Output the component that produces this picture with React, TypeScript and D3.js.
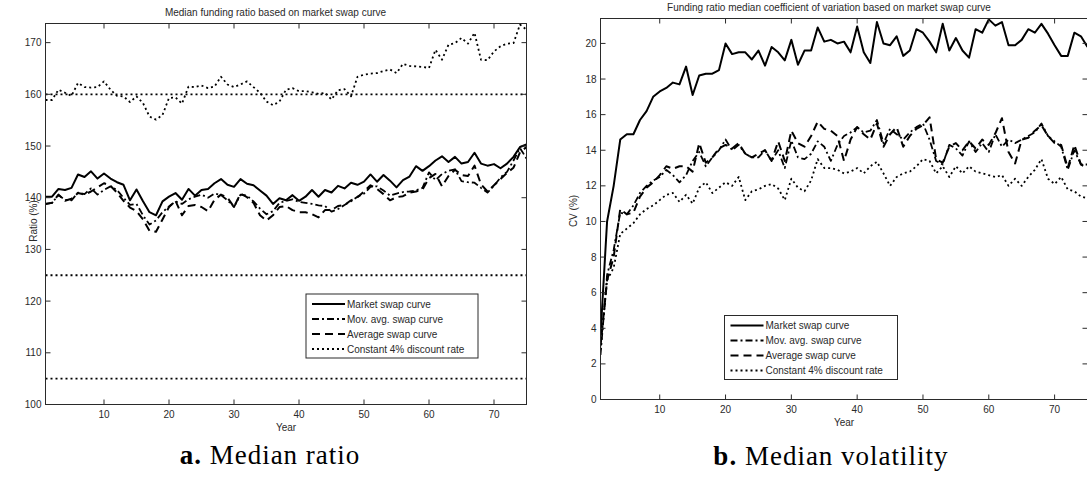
import React, { useEffect } from 'react';
import * as d3 from 'd3';

// years 1..75 on both panels
const years = d3.range(1, 76);
const xTickValues = [10, 20, 30, 40, 50, 60, 70];

// panel a: median funding ratio (%)
const ratioMarket = [
  140.2, 140.2, 141.7, 141.5, 141.9, 144.5, 144.0, 145.1, 143.7, 144.7,
  143.7, 143.0, 142.5, 139.5, 141.6, 139.3, 137.2, 136.6, 139.3, 140.2,
  140.9, 139.6, 141.7, 140.4, 141.5, 141.7, 142.8, 143.6, 142.5, 142.1,
  143.6, 142.7, 142.4, 141.4, 140.4, 138.8, 139.9, 139.5, 140.5, 139.4,
  140.2, 141.5, 140.2, 141.5, 141.0, 142.3, 141.8, 142.9, 142.5, 143.1,
  144.5, 143.1, 144.4, 143.3, 142.0, 143.4, 144.1, 146.1, 145.2, 146.1,
  147.2, 148.0, 146.9, 147.9, 146.6, 146.9, 148.7, 146.6, 146.2, 146.5,
  145.7, 146.6, 147.9, 149.8, 150.3,
];
const ratioMovAvg = [
  138.8, 139.0, 140.5, 139.6, 139.5, 141.0, 140.7, 141.8, 140.6, 141.5,
  142.2, 141.5, 140.0, 138.6, 138.8, 136.6, 134.8, 135.6, 137.2, 138.3,
  139.3, 138.8, 139.7, 140.2, 140.6, 140.0, 140.8, 140.5, 139.5, 138.2,
  140.6, 140.4, 139.3, 137.9, 136.8, 137.4, 139.0, 139.4, 139.7, 139.2,
  139.0, 138.8, 138.5, 138.4, 137.3, 137.8, 138.6, 139.3, 140.2, 140.8,
  142.1, 142.2, 141.4, 140.4, 140.8, 141.1, 141.2, 141.4, 141.9, 144.9,
  143.4, 144.6, 145.2, 145.5, 143.2, 143.0, 142.9, 141.9, 141.0, 142.3,
  143.9, 145.0, 147.2, 149.6, 147.6,
];
const ratioAverage = [
  138.8, 139.0, 140.6, 139.4, 139.8, 140.9, 140.6, 141.2, 142.0, 142.8,
  142.3, 141.0, 139.4, 138.1, 137.4, 135.8, 133.6, 133.4, 135.8, 138.2,
  139.4, 136.6, 138.4, 138.6, 138.2, 137.4, 139.6, 140.6, 140.0, 138.2,
  140.8, 140.1, 139.0, 136.6, 135.6, 136.6, 138.2, 138.4, 137.6, 137.2,
  137.2, 136.8, 136.2, 137.6, 137.6, 138.4, 138.6, 139.5, 140.1, 141.2,
  142.4, 141.7, 140.7, 139.5, 140.1, 140.3, 141.0, 141.2, 141.6, 143.8,
  144.6, 142.2, 144.2, 145.4, 144.4, 144.2, 146.2, 142.6, 141.2, 142.4,
  143.6, 144.8, 145.8, 148.8, 149.8,
];
const ratioConstant = [
  158.9, 158.9, 160.9, 160.3, 159.7, 162.2, 161.4, 161.3, 161.4, 162.5,
  160.9, 159.7, 159.6, 158.5, 159.6, 158.3, 155.7, 155.1, 156.0, 159.3,
  159.4, 158.2, 161.5, 161.4, 161.7, 161.2, 161.5, 163.4, 161.9, 161.4,
  161.9, 162.5, 161.4, 160.3, 158.6, 157.9, 158.6, 160.9, 161.2, 160.6,
  160.6, 160.4, 160.1, 160.3, 159.0, 160.8, 161.0, 159.6, 163.4, 163.8,
  164.0, 164.1, 164.5, 164.8, 164.1, 165.9, 165.5, 165.4, 165.3, 165.1,
  168.6, 166.7, 169.6, 169.9, 170.9, 169.8, 171.9, 166.7, 166.6, 168.3,
  169.3, 169.8, 169.9, 173.5, 172.5,
];
const ratioRefLines = [160, 125, 105];
const ratioTicks = [100, 110, 120, 130, 140, 150, 160, 170];

// panel b: median coefficient of variation (%)
const cvMarket = [
  3.6, 10.0, 12.0, 14.6, 14.9, 14.9, 15.7, 16.2, 17.0, 17.3,
  17.5, 17.8, 17.7, 18.7, 17.1, 18.2, 18.3, 18.3, 18.5, 20.0,
  19.4, 19.5, 19.5, 19.1, 19.6, 18.75, 19.8, 19.5, 19.05, 20.2,
  18.8, 19.6, 19.6, 20.9, 20.1, 20.2, 20.0, 20.1, 19.5, 20.95,
  19.5, 18.9, 21.2, 20.0, 19.9, 20.4, 19.3, 19.6, 20.8, 20.6,
  20.1, 19.5, 21.1, 19.6, 20.3, 19.6, 19.2, 20.8, 20.6, 21.35,
  21.0, 21.2, 19.9, 19.9, 20.2, 20.8, 20.6, 21.1, 20.55, 19.9,
  19.3, 19.3, 20.6, 20.4, 19.8,
];
const cvMovAvg = [
  2.5, 7.0, 8.4, 10.5, 10.4, 10.9, 11.6, 12.0, 12.3, 12.5,
  12.9, 12.6, 12.2, 12.6, 13.4, 13.9, 13.1, 13.6, 14.0, 14.6,
  14.0, 14.3, 13.8, 13.6, 13.6, 14.0, 13.4, 14.0, 13.0, 14.55,
  13.6, 13.5, 13.8, 14.5, 14.2, 13.4, 14.3, 14.8, 15.0, 15.3,
  15.0, 15.1, 15.7, 14.4, 15.2, 14.9, 14.6, 15.0, 15.3, 15.5,
  14.6, 13.4, 13.2, 14.3, 14.1, 13.7, 14.5, 13.9, 14.4, 13.9,
  14.9, 14.2, 14.6, 14.4, 14.6, 14.8, 15.0, 15.5, 14.8, 14.5,
  14.2, 12.9, 14.0, 13.2, 13.2,
];
const cvAverage = [
  3.0, 6.7, 8.0, 10.7, 10.4, 10.5, 11.4, 11.9, 12.2, 12.6,
  13.1, 12.96, 13.1, 13.1, 12.8, 14.4, 13.3, 13.6, 14.1, 14.3,
  14.1, 14.4, 13.8, 13.6, 13.8, 14.0, 13.4, 14.5, 13.4, 15.1,
  14.4, 14.2, 14.8, 15.6, 15.2, 15.1, 14.8, 13.4, 14.6, 15.3,
  14.9, 14.6, 15.5, 14.2, 14.9, 15.3, 14.2, 14.8, 15.2, 15.4,
  15.85, 13.5, 13.3, 14.2, 14.4, 14.0, 14.5, 14.1, 14.6, 14.3,
  14.95, 15.8, 13.9, 13.26, 14.6, 14.7, 15.1, 15.4, 14.8, 14.4,
  14.3, 13.0, 14.3, 13.2, 13.0,
];
const cvConstant = [
  2.8, 6.7, 7.4, 9.3, 9.6, 9.9, 10.4, 10.7, 10.9, 11.2,
  11.5, 11.6, 11.1, 11.5, 11.0, 11.9, 12.2, 11.6, 11.9, 12.2,
  12.0, 12.5, 11.2, 11.7, 11.8, 12.0, 12.1, 11.85, 11.2, 12.4,
  11.9, 11.7, 12.3, 13.5, 13.0, 13.0, 12.9, 12.7, 12.8, 13.0,
  12.7, 13.1, 13.35, 12.7, 12.0, 12.5, 12.7, 12.8, 13.1, 13.5,
  13.4, 12.7, 13.1, 12.5, 13.1, 12.7, 13.1, 12.8, 12.7, 12.6,
  12.5, 12.6, 12.0, 12.4, 12.0, 12.5, 12.9, 13.5, 12.4, 12.1,
  12.5, 11.8, 11.7, 11.4, 11.3,
];
const cvTicks = [0, 2, 4, 6, 8, 10, 12, 14, 16, 18, 20];

const seriesLabels = [
  'Market swap curve',
  'Mov. avg. swap curve',
  'Average swap curve',
  'Constant 4% discount rate',
];

const INK = '#2a2a2a';
const FONT = '"Liberation Sans", Arial, sans-serif';
const SERIF = '"Liberation Serif", "Times New Roman", serif';

// matlab-ish line styles: -, -., --, :
const lineStyles = [
  { dash: undefined, width: 2 },
  { dash: '7 3 2 3', width: 1.8 },
  { dash: '8 5', width: 2 },
  { dash: '2 3', width: 1.8 },
];

type PanelProps = {
  id: string;
  left: number;
  right: number;
  top: number;
  bottom: number;
  yDomain: [number, number];
  yTicks: number[];
  series: number[][];
  refLines?: number[];
  title: string;
  titleX: number;
  yLabel: string;
  yLabelX: number;
  yLabelY: number;
  legendX: number;
  legendY: number;
  legendW: number;
};

function Panel(p: PanelProps) {
  const x = d3.scaleLinear().domain([1, 75]).range([p.left, p.right]);
  const y = d3.scaleLinear().domain(p.yDomain).range([p.bottom, p.top]);
  const line = d3
    .line<number>()
    .x((_, i) => x(years[i]))
    .y((d) => y(d));
  const tick = 5;
  const midX = (p.left + p.right) / 2;

  return (
    <g>
      <defs>
        <clipPath id={p.id}>
          <rect x={p.left} y={p.top} width={p.right - p.left} height={p.bottom - p.top} />
        </clipPath>
      </defs>

      <g clipPath={`url(#${p.id})`} fill="none" stroke="#000">
        {(p.refLines || []).map((v) => (
          <line
            key={v}
            x1={p.left}
            x2={p.right}
            y1={y(v)}
            y2={y(v)}
            strokeWidth={lineStyles[3].width}
            strokeDasharray={lineStyles[3].dash}
          />
        ))}
        {p.series.map((s, i) => (
          <path
            key={i}
            d={line(s) || ''}
            strokeWidth={lineStyles[i].width}
            strokeDasharray={lineStyles[i].dash}
            strokeLinejoin="round"
          />
        ))}
      </g>

      {/* box and ticks */}
      <rect
        x={p.left}
        y={p.top}
        width={p.right - p.left}
        height={p.bottom - p.top}
        fill="none"
        stroke={INK}
        strokeWidth={1}
      />
      <g stroke={INK} strokeWidth={1}>
        {xTickValues.map((t) => (
          <g key={t}>
            <line x1={x(t)} x2={x(t)} y1={p.bottom} y2={p.bottom - tick} />
            <line x1={x(t)} x2={x(t)} y1={p.top} y2={p.top + tick} />
          </g>
        ))}
        {p.yTicks.map((t) => (
          <g key={t}>
            <line x1={p.left} x2={p.left + tick} y1={y(t)} y2={y(t)} />
            <line x1={p.right} x2={p.right - tick} y1={y(t)} y2={y(t)} />
          </g>
        ))}
      </g>

      <g fontFamily={FONT} fontSize={10} fill={INK}>
        {xTickValues.map((t) => (
          <text key={t} x={x(t)} y={p.bottom + 13.5} textAnchor="middle">
            {t}
          </text>
        ))}
        {p.yTicks.map((t) => (
          <text key={t} x={p.left - 4} y={y(t) + 3.5} textAnchor="end">
            {t}
          </text>
        ))}
        <text x={midX} y={p.bottom + 26.5} textAnchor="middle">
          Year
        </text>
        <text x={p.titleX} y={p.top - 8} textAnchor="middle">
          {p.title}
        </text>
        <text
          transform={`translate(${p.yLabelX},${p.yLabelY}) rotate(-90)`}
          textAnchor="middle"
        >
          {p.yLabel}
        </text>
      </g>

      {/* legend */}
      <g>
        <rect
          x={p.legendX}
          y={p.legendY}
          width={p.legendW}
          height={64}
          fill="#fff"
          stroke={INK}
          strokeWidth={1}
        />
        {seriesLabels.map((label, i) => {
          const ly = p.legendY + 10 + i * 15;
          return (
            <g key={label}>
              <line
                x1={p.legendX + 6}
                x2={p.legendX + 39}
                y1={ly}
                y2={ly}
                stroke="#000"
                strokeWidth={lineStyles[i].width}
                strokeDasharray={lineStyles[i].dash}
              />
              <text
                x={p.legendX + 41}
                y={ly + 3.5}
                fontFamily={FONT}
                fontSize={10}
                fill={INK}
              >
                {label}
              </text>
            </g>
          );
        })}
      </g>
    </g>
  );
}

export default function App() {
  useEffect(() => {
    document.body.style.margin = '0';
    document.body.style.overflow = 'hidden';
  }, []);

  return (
    <svg
      width={1087}
      height={479}
      style={{ position: 'absolute', left: 0, top: 0, background: '#fff' }}
    >
      <rect width={1087} height={479} fill="#fff" />
      <Panel
        id="clip-a"
        left={45.5}
        right={526.5}
        top={23.5}
        bottom={404.5}
        yDomain={[100, 173.7]}
        yTicks={ratioTicks}
        series={[ratioMarket, ratioMovAvg, ratioAverage, ratioConstant]}
        refLines={ratioRefLines}
        title="Median funding ratio based on market swap curve"
        titleX={275.5}
        yLabel="Ratio (%)"
        yLabelX={36.5}
        yLabelY={221}
        legendX={306}
        legendY={294}
        legendW={172}
      />
      <Panel
        id="clip-b"
        left={600.5}
        right={1087.5}
        top={18.5}
        bottom={399.5}
        yDomain={[0, 21.4]}
        yTicks={cvTicks}
        series={[cvMarket, cvMovAvg, cvAverage, cvConstant]}
        title="Funding ratio median coefficient of variation based on market swap curve"
        titleX={829}
        yLabel="CV (%)"
        yLabelX={577}
        yLabelY={211}
        legendX={724.5}
        legendY={315.5}
        legendW={173}
      />
      <g fontFamily={SERIF} fontSize={27} fill="#000" textAnchor="middle" letterSpacing={1}>
        <text x={270} y={463.5}>
          <tspan fontWeight="bold">a.</tspan> Median ratio
        </text>
        <text x={831} y={465}>
          <tspan fontWeight="bold">b.</tspan> Median volatility
        </text>
      </g>
    </svg>
  );
}
